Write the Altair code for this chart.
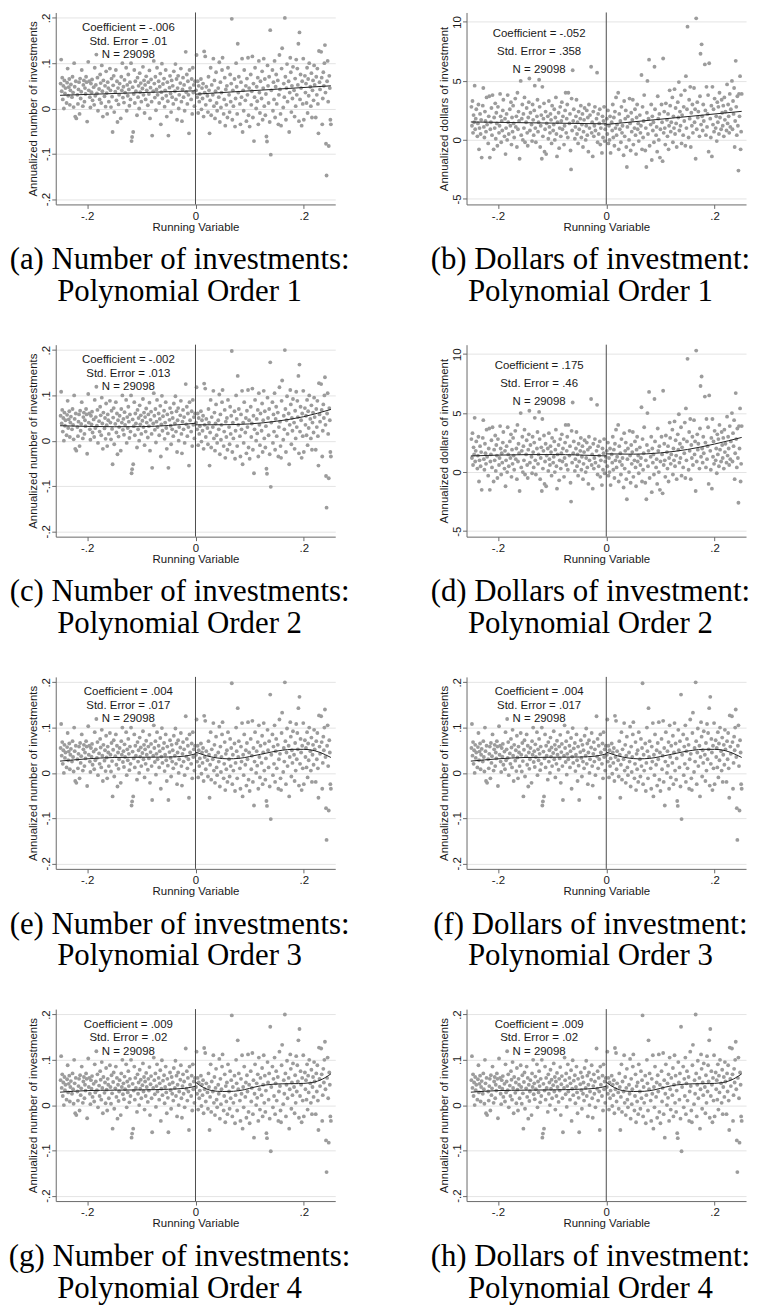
import altair as alt
import pandas as pd

# ---------------- data ----------------
NUM_POINTS = [
    (-0.249, 0.055), (-0.248, 0.108), (-0.247, 0.038), (-0.246, 0.068), (-0.245, 0.020), (-0.244, 0.050),
    (-0.243, 0.000), (-0.242, 0.062), (-0.241, 0.033), (-0.240, 0.045), (-0.238, 0.012), (-0.237, 0.057),
    (-0.236, 0.088), (-0.235, 0.028), (-0.234, 0.047), (-0.233, 0.065), (-0.232, 0.008), (-0.231, 0.040),
    (-0.230, 0.053), (-0.228, 0.025), (-0.227, 0.070), (-0.226, 0.035), (-0.225, 0.003), (-0.224, 0.100),
    (-0.223, 0.048), (-0.222, -0.018), (-0.221, 0.060), (-0.220, -0.022), (-0.218, 0.030), (-0.217, 0.010),
    (-0.216, 0.042), (-0.215, 0.058), (-0.214, -0.012), (-0.213, 0.066), (-0.212, 0.022), (-0.211, 0.037),
    (-0.210, 0.085), (-0.208, 0.005), (-0.207, 0.052), (-0.206, 0.062), (-0.205, 0.015), (-0.204, 0.045),
    (-0.203, 0.032), (-0.202, 0.070), (-0.201, 0.058), (-0.200, -0.029), (-0.198, 0.103), (-0.197, 0.040),
    (-0.196, 0.060), (-0.195, 0.025), (-0.194, 0.002), (-0.193, 0.055), (-0.192, 0.036), (-0.191, 0.064),
    (-0.190, 0.018), (-0.188, 0.047), (-0.187, 0.008), (-0.186, 0.090), (-0.185, 0.028), (-0.184, 0.052),
    (-0.183, 0.119), (-0.182, 0.033), (-0.181, 0.068), (-0.180, -0.005), (-0.178, 0.043), (-0.177, 0.020),
    (-0.176, 0.075), (-0.175, 0.056), (-0.174, 0.012), (-0.173, 0.095), (-0.172, 0.038), (-0.171, -0.018),
    (-0.170, 0.062), (-0.168, 0.027), (-0.167, 0.050), (-0.166, 0.004), (-0.165, 0.082), (-0.164, 0.034),
    (-0.163, -0.012), (-0.162, 0.058), (-0.161, 0.045), (-0.160, 0.015), (-0.158, 0.088), (-0.157, 0.040),
    (-0.156, 0.003), (-0.155, 0.066), (-0.154, 0.026), (-0.153, -0.052), (-0.152, 0.051), (-0.151, 0.072),
    (-0.150, -0.008), (-0.148, 0.037), (-0.147, 0.085), (-0.146, 0.018), (-0.145, 0.060), (-0.144, -0.030),
    (-0.143, 0.045), (-0.142, 0.009), (-0.141, 0.030), (-0.140, 0.055), (-0.138, -0.022), (-0.137, 0.070),
    (-0.136, 0.040), (-0.135, 0.100), (-0.134, 0.024), (-0.133, 0.048), (-0.132, 0.013), (-0.131, 0.063),
    (-0.130, 0.035), (-0.128, 0.090), (-0.127, -0.005), (-0.126, 0.052), (-0.125, 0.028), (-0.124, 0.075),
    (-0.123, 0.042), (-0.122, 0.006), (-0.121, 0.058), (-0.120, 0.020), (-0.119, 0.100), (-0.118, -0.072),
    (-0.117, -0.063), (-0.116, 0.047), (-0.115, -0.052), (-0.114, 0.032), (-0.113, 0.085), (-0.112, 0.012),
    (-0.111, 0.060), (-0.110, 0.038), (-0.108, -0.015), (-0.107, 0.068), (-0.106, 0.025), (-0.105, 0.050),
    (-0.104, 0.000), (-0.103, 0.078), (-0.102, 0.036), (-0.101, 0.056), (-0.100, 0.015), (-0.098, 0.044),
    (-0.097, 0.092), (-0.096, 0.030), (-0.095, 0.062), (-0.094, -0.010), (-0.093, 0.052), (-0.092, 0.020),
    (-0.091, 0.071), (-0.090, 0.040), (-0.088, 0.007), (-0.087, 0.058), (-0.086, 0.032), (-0.085, 0.084),
    (-0.084, -0.022), (-0.083, 0.046), (-0.082, 0.064), (-0.081, 0.015), (-0.080, -0.060), (-0.078, 0.038),
    (-0.077, 0.105), (-0.076, 0.055), (-0.075, 0.024), (-0.074, 0.070), (-0.073, -0.004), (-0.072, 0.042),
    (-0.071, 0.090), (-0.070, 0.030), (-0.068, 0.060), (-0.067, 0.012), (-0.066, 0.048), (-0.065, 0.077),
    (-0.064, -0.035), (-0.063, 0.036), (-0.062, 0.099), (-0.061, 0.022), (-0.060, 0.054), (-0.058, 0.066),
    (-0.057, 0.004), (-0.056, 0.040), (-0.055, 0.085), (-0.054, 0.028), (-0.053, -0.018), (-0.052, 0.058),
    (-0.051, 0.016), (-0.050, -0.060), (-0.048, 0.046), (-0.047, 0.072), (-0.046, 0.033), (-0.045, -0.008),
    (-0.044, 0.062), (-0.043, 0.025), (-0.042, 0.050), (-0.041, 0.010), (-0.040, 0.082), (-0.038, 0.038),
    (-0.037, 0.098), (-0.036, 0.020), (-0.035, 0.065), (-0.034, -0.025), (-0.033, 0.045), (-0.032, 0.072),
    (-0.031, 0.000), (-0.030, 0.030), (-0.028, 0.056), (-0.027, 0.088), (-0.026, 0.015), (-0.025, -0.028),
    (-0.024, 0.042), (-0.023, 0.068), (-0.022, 0.025), (-0.021, 0.052), (-0.020, -0.005), (-0.018, 0.125),
    (-0.017, 0.036), (-0.016, 0.075), (-0.015, 0.010), (-0.014, 0.060), (-0.013, 0.030), (-0.012, -0.055),
    (-0.011, 0.085), (-0.010, 0.045), (-0.008, 0.020), (-0.007, 0.065), (-0.006, -0.012), (-0.005, 0.090),
    (-0.004, 0.035), (-0.003, 0.052), (-0.002, 0.005), (-0.001, 0.060),
    (0.001, 0.040), (0.002, 0.118), (0.003, 0.025), (0.004, 0.060), (0.005, -0.010), (0.006, 0.050),
    (0.007, 0.015), (0.008, 0.032), (0.010, 0.065), (0.011, -0.002), (0.012, 0.045), (0.013, 0.022),
    (0.014, 0.055), (0.015, -0.018), (0.016, 0.126), (0.017, 0.035), (0.018, 0.115), (0.019, 0.008),
    (0.020, 0.048), (0.022, 0.028), (0.023, -0.008), (0.024, 0.070), (0.025, 0.040), (0.026, -0.055),
    (0.027, 0.018), (0.028, 0.090), (0.029, -0.015), (0.030, 0.052), (0.032, 0.030), (0.033, 0.110),
    (0.034, 0.005), (0.035, 0.062), (0.036, -0.022), (0.037, 0.038), (0.038, 0.080), (0.039, 0.012),
    (0.040, -0.005), (0.042, 0.045), (0.043, 0.025), (0.044, 0.102), (0.045, -0.030), (0.046, 0.058),
    (0.047, 0.002), (0.048, 0.035), (0.049, 0.085), (0.050, 0.112), (0.052, -0.012), (0.053, 0.020),
    (0.054, 0.068), (0.055, -0.038), (0.056, 0.042), (0.057, 0.008), (0.058, 0.050), (0.059, -0.020),
    (0.060, 0.090), (0.062, 0.030), (0.063, -0.008), (0.064, 0.075), (0.065, 0.015), (0.066, 0.055),
    (0.067, 0.198), (0.068, -0.025), (0.069, 0.040), (0.070, 0.005), (0.072, 0.065), (0.073, -0.040),
    (0.074, 0.022), (0.075, 0.100), (0.076, 0.048), (0.077, -0.012), (0.078, 0.143), (0.079, 0.035),
    (0.080, 0.070), (0.082, 0.010), (0.083, -0.035), (0.084, 0.058), (0.085, 0.025), (0.086, 0.110),
    (0.087, -0.052), (0.088, 0.040), (0.089, -0.005), (0.090, 0.085), (0.092, 0.018), (0.093, 0.050),
    (0.094, -0.028), (0.095, 0.066), (0.096, 0.030), (0.097, 0.112), (0.098, -0.015), (0.099, 0.045),
    (0.100, -0.040), (0.102, 0.075), (0.103, 0.008), (0.104, 0.038), (0.105, 0.115), (0.106, -0.020),
    (0.107, 0.055), (0.108, -0.072), (0.109, 0.025), (0.110, 0.090), (0.112, 0.000), (0.113, 0.048),
    (0.114, 0.016), (0.115, 0.068), (0.116, -0.035), (0.117, 0.105), (0.118, 0.035), (0.119, -0.010),
    (0.120, 0.060), (0.122, 0.022), (0.123, 0.082), (0.124, -0.025), (0.125, 0.045), (0.126, 0.110),
    (0.127, 0.005), (0.128, 0.065), (0.129, -0.015), (0.130, 0.032), (0.131, -0.062), (0.132, -0.073),
    (0.133, 0.095), (0.134, 0.050), (0.135, 0.012), (0.136, 0.070), (0.137, -0.030), (0.138, 0.173),
    (0.139, -0.102), (0.140, 0.040), (0.142, 0.085), (0.143, -0.005), (0.144, 0.058), (0.145, 0.020),
    (0.146, 0.105), (0.147, -0.020), (0.148, 0.048), (0.149, 0.075), (0.150, 0.010), (0.152, 0.062),
    (0.153, -0.035), (0.154, 0.030), (0.155, 0.118), (0.156, 0.042), (0.157, -0.012), (0.158, -0.038),
    (0.159, 0.088), (0.160, 0.133), (0.162, 0.002), (0.163, 0.055), (0.164, 0.025), (0.165, 0.200),
    (0.166, 0.070), (0.167, -0.025), (0.168, 0.045), (0.169, 0.098), (0.170, 0.015), (0.172, 0.060),
    (0.173, -0.052), (0.174, 0.035), (0.175, 0.112), (0.176, 0.080), (0.177, -0.008), (0.178, 0.050),
    (0.179, 0.022), (0.180, 0.092), (0.182, 0.040), (0.183, -0.018), (0.184, 0.066), (0.185, 0.005),
    (0.186, 0.108), (0.187, 0.030), (0.188, 0.088), (0.189, 0.052), (0.190, 0.143), (0.191, -0.028),
    (0.192, 0.168), (0.193, 0.020), (0.194, 0.075), (0.195, 0.045), (0.196, -0.038), (0.197, 0.060),
    (0.198, 0.010), (0.199, 0.110), (0.200, -0.025), (0.202, 0.072), (0.203, 0.035), (0.204, 0.055),
    (0.205, 0.012), (0.206, 0.090), (0.207, -0.010), (0.208, 0.065), (0.209, 0.028), (0.210, 0.100),
    (0.212, 0.048), (0.213, 0.005), (0.214, 0.078), (0.215, -0.020), (0.216, 0.040), (0.217, 0.062),
    (0.218, 0.018), (0.219, 0.095), (0.220, 0.052), (0.222, -0.020), (0.223, 0.070), (0.224, 0.030),
    (0.225, 0.088), (0.226, 0.010), (0.227, -0.055), (0.228, 0.127), (0.229, 0.058), (0.230, 0.042),
    (0.232, 0.125), (0.233, 0.068), (0.234, -0.035), (0.235, 0.022), (0.236, 0.080), (0.237, 0.050),
    (0.238, 0.100), (0.239, 0.140), (0.240, 0.035), (0.241, -0.078), (0.242, -0.148), (0.243, 0.060),
    (0.244, 0.105), (0.245, 0.015), (0.246, -0.083), (0.247, 0.072), (0.248, 0.045), (0.249, -0.025),
    (0.250, -0.035),
]

DOL_POINTS = [
    (-0.249, 2.8), (-0.248, 1.2), (-0.247, 3.3), (-0.246, 0.6), (-0.245, 2.1), (-0.244, 1.5), (-0.243, 4.6),
    (-0.242, 0.9), (-0.241, 1.8), (-0.240, 2.6), (-0.238, 0.3), (-0.237, 1.4), (-0.236, 3.0), (-0.235, -0.8),
    (-0.234, 1.0), (-0.233, 2.2), (-0.232, 0.5), (-0.231, 1.7), (-0.230, -1.5), (-0.228, 2.9), (-0.227, 4.4),
    (-0.226, 1.1), (-0.225, 0.2), (-0.224, 2.4), (-0.223, 1.6), (-0.222, 0.7), (-0.221, 3.6), (-0.220, 1.3),
    (-0.218, -0.3), (-0.217, 2.0), (-0.216, 3.7), (-0.215, -1.5), (-0.214, 0.9), (-0.213, 1.5), (-0.212, 2.7),
    (-0.211, 0.4), (-0.210, 3.8), (-0.208, -0.8), (-0.207, 1.9), (-0.206, 1.0), (-0.205, 3.1), (-0.204, 0.1),
    (-0.203, 2.3), (-0.202, 1.4), (-0.201, -0.5), (-0.200, 2.8), (-0.198, 0.6), (-0.197, 1.2), (-0.196, 3.9),
    (-0.195, 2.0), (-0.194, -0.2), (-0.193, 1.6), (-0.192, 0.8), (-0.191, 2.5), (-0.190, 3.4), (-0.188, 0.3),
    (-0.187, 1.8), (-0.186, -1.2), (-0.185, 1.0), (-0.184, 2.2), (-0.183, 0.0), (-0.182, 3.8), (-0.181, 1.5),
    (-0.180, 0.5), (-0.178, 2.6), (-0.177, 1.2), (-0.176, 3.2), (-0.175, -0.4), (-0.174, 1.9), (-0.173, 0.7),
    (-0.172, 2.9), (-0.171, 1.4), (-0.170, 0.2), (-0.168, 3.5), (-0.167, 1.1), (-0.166, 2.0), (-0.165, -0.6),
    (-0.164, 4.0), (-0.163, 0.9), (-0.162, 2.4), (-0.161, 1.6), (-0.160, -1.6), (-0.158, 5.0), (-0.157, 0.4),
    (-0.156, 1.8), (-0.155, 3.0), (-0.154, 0.0), (-0.153, 2.2), (-0.152, 1.0), (-0.151, 3.6), (-0.150, -0.2),
    (-0.148, 1.5), (-0.147, 2.7), (-0.146, 0.6), (-0.145, -0.5), (-0.144, 1.9), (-0.143, 3.2), (-0.142, 5.2),
    (-0.141, 0.8), (-0.140, 2.3), (-0.138, 1.3), (-0.137, -0.1), (-0.136, 3.0), (-0.135, 1.7), (-0.134, 0.4),
    (-0.133, 2.5), (-0.132, 4.6), (-0.131, 1.0), (-0.130, -0.2), (-0.128, 2.0), (-0.127, 3.4), (-0.126, 0.7),
    (-0.125, 1.5), (-0.124, 5.1), (-0.123, 2.8), (-0.122, -0.6), (-0.121, 1.2), (-0.120, 2.1), (-0.119, -1.6),
    (-0.118, 4.5), (-0.117, 0.3), (-0.116, 1.8), (-0.115, 3.1), (-0.114, -1.0), (-0.113, 0.9), (-0.112, 2.4),
    (-0.111, -1.2), (-0.110, 1.4), (-0.108, 2.0), (-0.107, 0.1), (-0.106, 3.3), (-0.105, 1.1), (-0.104, 0.6),
    (-0.103, 2.2), (-0.102, 1.7), (-0.101, -0.3), (-0.100, 2.9), (-0.098, 0.8), (-0.097, 1.3), (-0.096, 2.6),
    (-0.095, 0.0), (-0.094, 1.9), (-0.093, 3.6), (-0.092, 0.5), (-0.091, -1.4), (-0.090, 1.5), (-0.088, 2.3),
    (-0.087, -0.7), (-0.086, 1.0), (-0.085, 2.8), (-0.084, 0.3), (-0.083, 1.6), (-0.082, 3.2), (-0.081, 0.9),
    (-0.080, 2.0), (-0.078, -0.4), (-0.077, 1.2), (-0.076, 2.5), (-0.075, 4.0), (-0.074, 0.6), (-0.073, 1.8),
    (-0.072, 3.0), (-0.071, 0.2), (-0.070, 4.0), (-0.068, 1.4), (-0.067, 2.2), (-0.066, -0.9), (-0.065, -2.5),
    (-0.064, 3.5), (-0.063, 0.8), (-0.062, 5.9), (-0.061, 1.6), (-0.060, 2.6), (-0.058, 0.1), (-0.057, 1.1),
    (-0.056, 2.0), (-0.055, 3.4), (-0.054, 0.5), (-0.053, 1.5), (-0.052, -0.3), (-0.051, 2.4), (-0.050, 0.9),
    (-0.048, 1.8), (-0.047, 2.9), (-0.046, 0.2), (-0.045, 1.3), (-0.044, 2.2), (-0.043, -0.6), (-0.042, 0.7),
    (-0.041, 1.7), (-0.040, 2.7), (-0.038, 0.0), (-0.037, 1.2), (-0.036, 2.5), (-0.035, 0.4), (-0.034, 1.9),
    (-0.033, -1.0), (-0.032, 3.0), (-0.031, 1.0), (-0.030, 2.1), (-0.028, 6.2), (-0.027, 0.6), (-0.026, 1.5),
    (-0.025, -1.4), (-0.024, 2.4), (-0.023, 0.3), (-0.022, 1.2), (-0.021, 2.8), (-0.020, 0.8), (-0.018, 1.8),
    (-0.017, 5.7), (-0.016, -0.2), (-0.015, 2.2), (-0.014, 0.5), (-0.013, 1.4), (-0.012, 2.6), (-0.011, -0.4),
    (-0.010, 1.0), (-0.008, -1.1), (-0.007, 2.0), (-0.006, 0.2), (-0.005, 1.6), (-0.004, 2.8), (-0.003, -0.1),
    (-0.002, 0.9), (-0.001, 1.3),
    (0.001, 1.8), (0.002, 0.5), (0.003, 2.5), (0.004, -0.3), (0.005, 1.2), (0.006, 0.0), (0.007, 2.0),
    (0.008, -1.1), (0.010, 1.5), (0.011, 0.8), (0.012, 3.0), (0.013, 0.2), (0.014, 1.9), (0.015, -0.5),
    (0.016, 2.4), (0.017, 1.0), (0.018, 3.6), (0.019, 0.4), (0.020, 1.3), (0.022, 4.0), (0.023, -0.8),
    (0.024, 2.2), (0.025, 0.9), (0.026, 1.6), (0.027, -0.2), (0.028, 2.8), (0.029, 0.6), (0.030, 1.2),
    (0.032, -1.3), (0.033, 3.3), (0.034, 0.3), (0.035, 1.8), (0.036, 2.5), (0.037, -0.6), (0.038, -2.3),
    (0.039, 1.1), (0.040, 2.0), (0.042, 0.0), (0.043, 3.5), (0.044, 1.4), (0.045, -0.9), (0.046, 2.3),
    (0.047, 0.7), (0.048, 1.7), (0.049, 3.4), (0.050, -0.4), (0.052, 1.0), (0.053, 2.6), (0.054, 0.4),
    (0.055, -1.2), (0.056, 1.9), (0.057, 3.0), (0.058, 0.9), (0.059, 1.4), (0.060, -0.1), (0.062, 2.1),
    (0.063, 0.6), (0.064, 1.2), (0.065, 5.5), (0.066, -0.8), (0.067, 2.8), (0.068, 0.2), (0.069, 1.6),
    (0.070, 3.8), (0.072, -0.9), (0.073, 1.0), (0.074, -2.3), (0.075, 2.3), (0.076, 5.0), (0.077, 0.5),
    (0.078, 1.8), (0.079, 6.8), (0.080, -0.5), (0.082, 1.3), (0.083, 3.0), (0.084, -1.7), (0.085, 2.0),
    (0.086, 0.8), (0.087, 1.5), (0.088, -0.2), (0.089, 6.2), (0.090, 2.6), (0.092, 0.4), (0.093, 1.1),
    (0.094, -1.0), (0.095, 3.7), (0.096, 1.8), (0.097, 0.0), (0.098, 2.2), (0.099, -1.5), (0.100, 0.9),
    (0.102, 3.0), (0.103, 1.5), (0.104, -1.8), (0.105, 6.9), (0.106, 0.6), (0.107, 2.4), (0.108, 1.0),
    (0.109, -0.4), (0.110, 3.1), (0.112, 1.7), (0.113, 0.3), (0.114, 2.2), (0.115, -0.8), (0.116, 1.2),
    (0.117, 4.2), (0.118, 2.9), (0.119, 0.7), (0.120, 1.5), (0.122, 3.6), (0.123, -0.2), (0.124, 2.0),
    (0.125, 1.0), (0.126, 4.3), (0.127, 0.5), (0.128, 2.7), (0.129, 1.4), (0.130, -0.6), (0.132, 3.2),
    (0.133, 1.9), (0.134, 4.9), (0.135, 0.8), (0.136, 2.4), (0.137, 1.2), (0.138, 3.8), (0.139, -0.3),
    (0.140, 2.1), (0.142, 0.4), (0.143, 2.8), (0.144, 1.6), (0.145, 4.2), (0.146, -0.5), (0.147, 5.4),
    (0.148, 1.0), (0.149, 2.6), (0.150, 9.6), (0.152, 0.2), (0.153, 3.4), (0.154, 1.8), (0.155, 4.5),
    (0.156, -0.6), (0.157, 2.3), (0.158, 1.2), (0.159, 3.0), (0.160, 0.6), (0.162, 4.4), (0.163, 1.5),
    (0.164, 2.6), (0.165, -1.6), (0.166, 10.3), (0.167, 0.9), (0.168, 3.2), (0.169, 1.9), (0.170, 2.4),
    (0.172, 0.3), (0.173, 3.7), (0.174, 7.3), (0.175, 1.3), (0.176, 8.1), (0.177, 2.0), (0.178, 0.8),
    (0.179, 3.0), (0.180, 1.6), (0.182, 6.4), (0.183, 2.5), (0.184, 0.4), (0.185, 4.5), (0.186, 1.1),
    (0.187, 2.2), (0.188, 3.8), (0.189, -1.0), (0.190, 6.5), (0.192, 1.8), (0.193, 0.2), (0.194, 2.9),
    (0.195, -1.4), (0.196, 4.5), (0.197, 1.3), (0.198, 2.6), (0.199, 0.7), (0.200, 3.5), (0.202, 1.0),
    (0.203, 2.0), (0.204, -0.1), (0.205, 3.2), (0.206, 1.5), (0.207, 2.8), (0.208, 0.5), (0.209, 4.0),
    (0.210, 1.9), (0.212, 0.9), (0.213, 3.4), (0.214, 2.3), (0.215, 1.2), (0.216, 2.9), (0.217, 0.3),
    (0.218, 3.6), (0.219, 1.7), (0.220, 2.4), (0.222, 0.8), (0.223, 4.7), (0.224, 1.4), (0.225, 3.0),
    (0.226, 2.0), (0.227, 0.6), (0.228, 3.9), (0.229, 1.1), (0.230, 2.6), (0.232, 5.0), (0.233, 0.9),
    (0.234, 3.3), (0.235, 2.2), (0.236, 4.4), (0.237, -0.6), (0.238, 1.6), (0.239, 6.7), (0.240, 2.8),
    (0.241, 0.4), (0.242, 3.7), (0.243, 1.2), (0.244, -2.6), (0.245, 3.9), (0.246, 2.0), (0.247, 5.4),
    (0.248, -0.8), (0.249, 0.7), (0.250, 3.9),
]

# fitted polynomial curves (left of cutoff, right of cutoff)
FIT_A_LEFT = [(-0.25, 0.029), (0.0, 0.039)]
FIT_A_RIGHT = [(0.0, 0.0315), (0.25, 0.050)]
FIT_B_LEFT = [(-0.25, 1.52), (0.0, 1.36)]
FIT_B_RIGHT = [(0.0, 1.31), (0.25, 2.42)]
FIT_C_LEFT = [(-0.25, 0.033), (-0.2, 0.0315), (-0.15, 0.0308), (-0.1, 0.031), (-0.05, 0.0335), (0.0, 0.0385)]
FIT_C_RIGHT = [(0.0, 0.035), (0.05, 0.0352), (0.1, 0.037), (0.15, 0.043), (0.2, 0.053), (0.25, 0.069)]
FIT_D_LEFT = [(-0.25, 1.37), (-0.2, 1.44), (-0.15, 1.48), (-0.1, 1.49), (-0.05, 1.45), (0.0, 1.37)]
FIT_D_RIGHT = [(0.0, 1.545), (0.05, 1.52), (0.1, 1.63), (0.15, 1.92), (0.2, 2.38), (0.25, 2.94)]
FIT_E_LEFT = [(-0.25, 0.026), (-0.2, 0.031), (-0.15, 0.034), (-0.1, 0.0345), (-0.05, 0.035), (-0.02, 0.037), (0.0, 0.042)]
FIT_E_RIGHT = [(0.0, 0.046), (0.02, 0.038), (0.04, 0.033), (0.06, 0.031), (0.08, 0.032), (0.1, 0.036),
               (0.12, 0.041), (0.14, 0.046), (0.16, 0.050), (0.18, 0.052), (0.2, 0.052), (0.22, 0.049),
               (0.24, 0.040), (0.25, 0.034)]
FIT_G_LEFT = [(-0.25, 0.0285), (-0.2, 0.032), (-0.15, 0.033), (-0.1, 0.0336), (-0.05, 0.035), (-0.02, 0.037), (0.0, 0.0416)]
FIT_G_RIGHT = [(0.0, 0.0506), (0.01, 0.042), (0.02, 0.036), (0.03, 0.032), (0.05, 0.030), (0.07, 0.0305),
               (0.09, 0.034), (0.11, 0.040), (0.13, 0.0445), (0.16, 0.047), (0.19, 0.0475), (0.21, 0.049),
               (0.23, 0.055), (0.24, 0.061), (0.25, 0.069)]

PANEL_KIND = ["num", "dol", "num", "dol", "num", "num", "num", "num"]
PANEL_FITS = [
    (FIT_A_LEFT, FIT_A_RIGHT), (FIT_B_LEFT, FIT_B_RIGHT), (FIT_C_LEFT, FIT_C_RIGHT), (FIT_D_LEFT, FIT_D_RIGHT),
    (FIT_E_LEFT, FIT_E_RIGHT), (FIT_E_LEFT, FIT_E_RIGHT), (FIT_G_LEFT, FIT_G_RIGHT), (FIT_G_LEFT, FIT_G_RIGHT),
]
COEFS = ["-.006", "-.052", "-.002", ".175", ".004", ".004", ".009", ".009"]
STD_ERRS = [".01", ".358", ".013", ".46", ".017", ".017", ".02", ".02"]
N_OBS = "29098"
CAPTION_LINE1 = [
    "(a) Number of investments:", "(b) Dollars of investment:",
    "(c) Number of investments:", "(d) Dollars of investment:",
    "(e) Number of investments:", "(f) Dollars of investment:",
    "(g) Number of investments:", "(h) Dollars of investment:",
]
CAPTION_LINE2 = [
    "Polynomial Order 1", "Polynomial Order 1", "Polynomial Order 2", "Polynomial Order 2",
    "Polynomial Order 3", "Polynomial Order 3", "Polynomial Order 4", "Polynomial Order 4",
]
NUM_Y_TICKS = [-0.2, -0.1, 0.0, 0.1, 0.2]
DOL_Y_TICKS = [-5, 0, 5, 10]
X_TICKS = [-0.2, 0.0, 0.2]

# ---------------- styling ----------------
W, H = 281, 193
SANS = "Liberation Sans"
SERIF = "Liberation Serif"
FS = 11.5
DOT = "#9c9c9c"
AXC = "#6a6a6a"
TXT = "#1a1a1a"

STATA_FMT = ("datum.value == 0 ? '0' : replace(replace(format(datum.value, '.1f'), '\u2212', '-'), '0.', '.')")
INT_FMT = "replace(format(datum.value, 'd'), '\u2212', '-')"

x_enc = alt.X(
    "x:Q",
    scale=alt.Scale(domain=[-0.258, 0.258], nice=False, zero=False),
    axis=alt.Axis(values=X_TICKS, labelExpr=STATA_FMT, title="Running Variable", grid=False,
                  tickSize=4, labelPadding=2, labelFont=SANS, labelFontSize=FS, labelColor=TXT,
                  titleFont=SANS, titleFontSize=FS, titleFontWeight="normal", titleColor=TXT,
                  titleY=26, titleBaseline="alphabetic", domainColor=AXC, tickColor=AXC, labelFlush=False),
)


def y_enc(kind):
    if kind == "num":
        dom, ticks, fmt, title = [-0.212, 0.212], NUM_Y_TICKS, STATA_FMT, "Annualized number of investments"
    else:
        dom, ticks, fmt, title = [-5.47, 10.8], DOL_Y_TICKS, INT_FMT, "Annualized dollars of investment"
    return alt.Y(
        "y:Q",
        scale=alt.Scale(domain=dom, nice=False, zero=False),
        axis=alt.Axis(values=ticks, labelExpr=fmt, title=title, grid=True, gridColor="#e4e4e4",
                      tickSize=4, labelPadding=2, labelAngle=270, labelAlign="center",
                      labelBaseline="alphabetic", labelFont=SANS, labelFontSize=FS, labelColor=TXT,
                      titleFont=SANS, titleFontSize=FS, titleFontWeight="normal", titleColor=TXT,
                      titleX=-19, titleBaseline="alphabetic", domainColor=AXC, tickColor=AXC,
                      labelFlush=False),
    )


def panel(i):
    kind = PANEL_KIND[i]
    pts = NUM_POINTS if kind == "num" else DOL_POINTS
    df = pd.DataFrame(pts, columns=["x", "y"])
    ye = y_enc(kind)
    left, right = PANEL_FITS[i]
    layers = [
        alt.Chart(df).mark_circle(size=15, color=DOT, opacity=1).encode(x=x_enc, y=ye),
        alt.Chart(pd.DataFrame({"x": [0.0]})).mark_rule(color="#4d4d4d", strokeWidth=1).encode(x=x_enc),
    ]
    for seg in (left, right):
        layers.append(
            alt.Chart(pd.DataFrame(seg, columns=["x", "y"])).mark_line(
                color="#222222", strokeWidth=1, interpolate="monotone").encode(x=x_enc, y=ye)
        )
    texts = [f"Coefficient = {COEFS[i]}", f"Std. Error = {STD_ERRS[i]}", f"N = {N_OBS}"]
    ys = [15.7, 29.2, 42.7] if kind == "num" else [21.7, 40.0, 57.7]
    for t, yy in zip(texts, ys):
        layers.append(
            alt.Chart(pd.DataFrame({"t": [t]})).mark_text(
                font=SANS, fontSize=FS, color=TXT, align="center", baseline="middle").encode(
                text="t:N", x=alt.value(73), y=alt.value(yy))
        )
    for t, yy in ((CAPTION_LINE1[i], 249), (CAPTION_LINE2[i], 281)):
        layers.append(
            alt.Chart(pd.DataFrame({"t": [t]})).mark_text(
                font=SERIF, fontSize=31, color="#000000", align="center", baseline="middle").encode(
                text="t:N", x=alt.value(124.5), y=alt.value(yy))
        )
    return alt.layer(*layers).properties(width=W, height=H)


chart = alt.concat(
    *[panel(i) for i in range(8)], columns=2, spacing={"row": 141, "column": 132}, bounds="flush"
).properties(padding=0, background="white").configure_view(stroke=None)

chart.save("out.html", embed_options={"renderer": "svg", "actions": False})
